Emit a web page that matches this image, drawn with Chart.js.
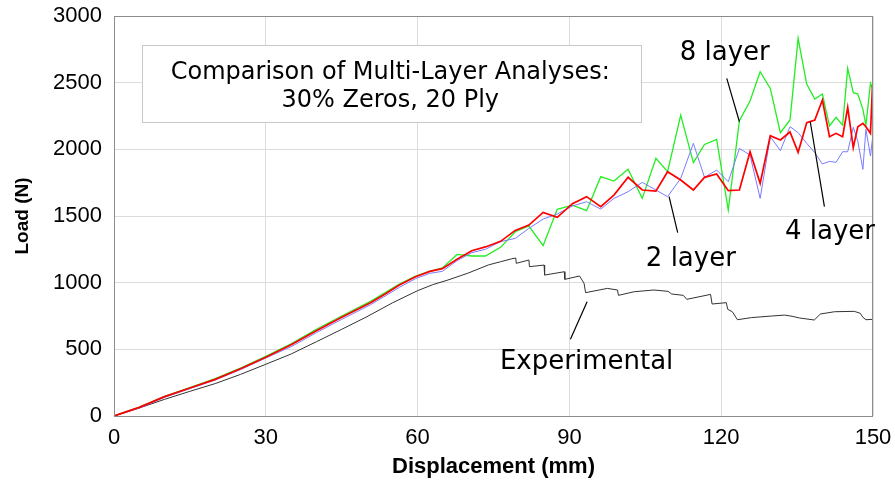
<!DOCTYPE html>
<html>
<head>
<meta charset="utf-8">
<script src="https://cdn.jsdelivr.net/npm/chart.js@4.4.1/dist/chart.umd.min.js"></script>
<style>
  html, body { margin: 0; padding: 0; background: #ffffff; }
  #wrap { width: 895px; height: 484px; }
</style>
</head>
<body>
<div id="wrap"><canvas id="c" width="895" height="484"></canvas></div>
<script>
// ---------- DATA ----------
// Displacement grid shared by the simulated (multi-layer) analyses (mm)
const simDisp = [0, 5, 10, 15, 20, 25, 30, 35, 40, 45, 50.7, 53.6, 56.4, 59.6, 62.4, 64.9, 67.8, 70.7, 73.4, 76.4,
  79.3, 82.0, 84.8, 87.6, 90.6, 93.4, 96.2, 98.8, 101.6, 104.4, 107.1, 109.4, 112.0, 114.5, 116.7, 119.1,
  121.4, 123.6, 125.7, 127.7, 129.7, 131.7, 133.6, 135.2, 136.9, 138.5, 140.0, 141.4, 142.7, 144.0, 145.0,
  146.1, 147.0, 148.0, 148.6, 149.5, 149.9, 150];

// Load (N)
const load2Layer = [0, 60, 140, 205, 270, 348, 435, 520, 625, 725, 835, 900, 965, 1030, 1070, 1085, 1165, 1225, 1250, 1308,
  1332, 1407, 1477, 1515, 1575, 1607, 1552, 1632, 1682, 1752, 1695, 1645, 1782, 2045, 1790, 1845,
  1757, 2007, 1957, 1632, 2095, 1990, 2170, 2125, 2045, 1975, 1890, 1910, 1902, 1982, 1982,
  2165, 2060, 1850, 2150, 1950, 2080, 2107];

const load4Layer = [0, 65, 145, 210, 275, 355, 440, 535, 640, 740, 850, 915, 982, 1045, 1085, 1105, 1175, 1240, 1268, 1310,
  1392, 1432, 1527, 1490, 1592, 1645, 1570, 1657, 1790, 1695, 1687, 1832, 1770, 1695, 1790, 1815,
  1690, 1695, 1982, 1745, 2102, 2070, 2130, 1977, 2200, 2220, 2370, 2095, 2120, 2095, 2315,
  2012, 2170, 2195, 2170, 2120, 2480, 2290];

const load8Layer = [0, 66, 148, 213, 280, 360, 448, 542, 650, 750, 860, 925, 990, 1050, 1085, 1110, 1212, 1200, 1200, 1265,
  1382, 1425, 1277, 1550, 1582, 1540, 1795, 1762, 1850, 1632, 1932, 1832, 2257, 1900, 2037, 2075,
  1545, 2215, 2362, 2582, 2457, 2125, 2220, 2832, 2490, 2377, 2415, 2175, 2240, 2182, 2607,
  2425, 2415, 2300, 2182, 2495, 2460, 2457];

// Experimental curve
const expDisp = [0, 5, 10, 15, 20, 25, 30, 35, 40, 45, 50, 55, 60, 63, 66, 70, 74, 76.4, 78.5, 79.4, 79.5,
  82.0, 82.1, 85.0, 85.1, 89.0, 89.1, 92.0, 92.9, 93.2, 97.5, 99.5, 99.7, 102.8, 106.7, 109.5, 110.2,
  112.5, 113.2, 117.9, 118.2, 121.0, 121.3, 122.2, 123.2, 126, 130, 132.5, 134, 135.5, 138.4, 139.6,
  142.4, 146.3, 147.5, 148, 148.6, 150];
const expLoad = [0, 60, 125, 185, 243, 312, 388, 465, 557, 650, 745, 848, 940, 985, 1020, 1072, 1133, 1157, 1178, 1185, 1145,
  1170, 1120, 1132, 1057, 1082, 1025, 1050, 995, 925, 957, 945, 905, 932, 945, 935, 915,
  905, 875, 912, 840, 850, 800, 782, 722, 738, 750, 757, 748, 735, 720, 765,
  782, 785, 770, 740, 722, 725];

// Axis ticks
const xTicks = [0, 30, 60, 90, 120, 150];
const yTicks = [0, 500, 1000, 1500, 2000, 2500, 3000];

// Text annotations (label, anchor in data units) and leader lines (data units)
const boxTitle = ["Comparison of Multi-Layer Analyses:", "30% Zeros, 20 Ply"];
const boxCorners = [[5.5, 2782], [104.1, 2207]];
const boxLineAnchors = [[54.6, 2575], [54.6, 2365]];
const labelTexts = ["8 layer", "2 layer", "4 layer", "Experimental"];
const labelAnchors = [[120.7, 2722], [114.0, 1175], [141.5, 1375], [93.4, 400]];
const leaderLines = [
  [[121.1, 2532], [123.6, 2207]],
  [[109.7, 1645], [111.4, 1375]],
  [[137.6, 2207], [140.4, 1570]],
  [[93.5, 857], [90.2, 575]]
];

// ---------- BUILD ----------
function pts(xs, ys) { return xs.map((x, i) => ({ x: x, y: ys[i] })); }

const annotPlugin = {
  id: 'annot',
  beforeDatasetsDraw(chart) {
    const { ctx, scales: { x, y } } = chart;
    ctx.save();
    const x0 = x.getPixelForValue(boxCorners[0][0]), y0 = y.getPixelForValue(boxCorners[0][1]);
    const x1 = x.getPixelForValue(boxCorners[1][0]), y1 = y.getPixelForValue(boxCorners[1][1]);
    ctx.fillStyle = '#ffffff';
    ctx.fillRect(x0, y0, x1 - x0, y1 - y0);
    ctx.strokeStyle = '#c8c8c8';
    ctx.lineWidth = 1;
    ctx.strokeRect(Math.round(x0) + 0.5, Math.round(y0) + 0.5, Math.round(x1 - x0), Math.round(y1 - y0));
    ctx.fillStyle = '#000000';
    ctx.font = '24px "DejaVu Sans", Verdana, sans-serif';
    ctx.textAlign = 'center';
    ctx.textBaseline = 'middle';
    boxTitle.forEach((t, i) => {
      ctx.fillText(t, x.getPixelForValue(boxLineAnchors[i][0]), y.getPixelForValue(boxLineAnchors[i][1]));
    });
    ctx.restore();
  },
  afterDatasetsDraw(chart) {
    const { ctx, chartArea: a, scales: { x, y } } = chart;
    ctx.save();
    ctx.strokeStyle = '#8c8c8c';
    ctx.lineWidth = 1;
    ctx.strokeRect(Math.round(a.left) + 0.5, Math.round(a.top) + 0.5, Math.round(a.right - a.left) - 1, Math.round(a.bottom - a.top));
    ctx.strokeStyle = '#000000';
    ctx.lineWidth = 1.2;
    leaderLines.forEach(l => {
      ctx.beginPath();
      ctx.moveTo(x.getPixelForValue(l[0][0]), y.getPixelForValue(l[0][1]));
      ctx.lineTo(x.getPixelForValue(l[1][0]), y.getPixelForValue(l[1][1]));
      ctx.stroke();
    });
    ctx.fillStyle = '#000000';
    ctx.font = '26px "DejaVu Sans", Verdana, sans-serif';
    ctx.textAlign = 'center';
    ctx.textBaseline = 'middle';
    labelTexts.forEach((t, i) => {
      ctx.fillText(t, x.getPixelForValue(labelAnchors[i][0]), y.getPixelForValue(labelAnchors[i][1]));
    });
    ctx.restore();
  }
};

const tickFont = { family: '"Liberation Sans", Arial, sans-serif', size: 22 };

new Chart(document.getElementById('c'), {
  type: 'line',
  data: {
    datasets: [
      { label: '4 layer', data: pts(simDisp, load4Layer), borderColor: '#ff0000', borderWidth: 1.7, order: 0 },
      { label: '2 layer', data: pts(simDisp, load2Layer), borderColor: '#7a7aff', borderWidth: 1, order: 1 },
      { label: '8 layer', data: pts(simDisp, load8Layer), borderColor: '#22ee22', borderWidth: 1.3, order: 2 },
      { label: 'Experimental', data: pts(expDisp, expLoad), borderColor: '#333333', borderWidth: 1, order: 3 }
    ]
  },
  options: {
    responsive: false,
    devicePixelRatio: 1,
    animation: false,
    layout: { padding: { left: 0, right: 22, top: 16, bottom: 0 } },
    elements: { point: { radius: 0 }, line: { tension: 0, fill: false } },
    plugins: { legend: { display: false }, tooltip: { enabled: false } },
    scales: {
      x: {
        type: 'linear', min: 0, max: 150,
        afterBuildTicks: s => { s.ticks = xTicks.map(v => ({ value: v })); },
        afterFit: s => { s.height = 68; s.paddingLeft = 0; s.paddingRight = 0; },
        grid: { color: '#dcdcdc', drawTicks: false },
        border: { display: false },
        ticks: { font: tickFont, color: '#000', padding: 9, maxRotation: 0, callback: v => String(v) },
        title: { display: true, text: 'Displacement (mm)', color: '#000',
          font: { family: '"Liberation Sans", Arial, sans-serif', size: 22, weight: 'bold' },
          padding: { top: 0, bottom: 4 } }
      },
      y: {
        type: 'linear', min: 0, max: 3000,
        afterBuildTicks: s => { s.ticks = yTicks.map(v => ({ value: v })); },
        afterFit: s => { s.width = 114; s.paddingTop = 0; s.paddingBottom = 0; },
        grid: { color: '#dcdcdc', drawTicks: false },
        border: { display: false },
        ticks: { font: tickFont, color: '#000', padding: 12, callback: v => String(v) },
        title: { display: true, text: 'Load (N)', color: '#000',
          font: { family: '"Liberation Sans", Arial, sans-serif', size: 19, weight: 'bold' },
          padding: { top: 11, bottom: 0 } }
      }
    }
  },
  plugins: [annotPlugin]
});
</script>
</body>
</html>
